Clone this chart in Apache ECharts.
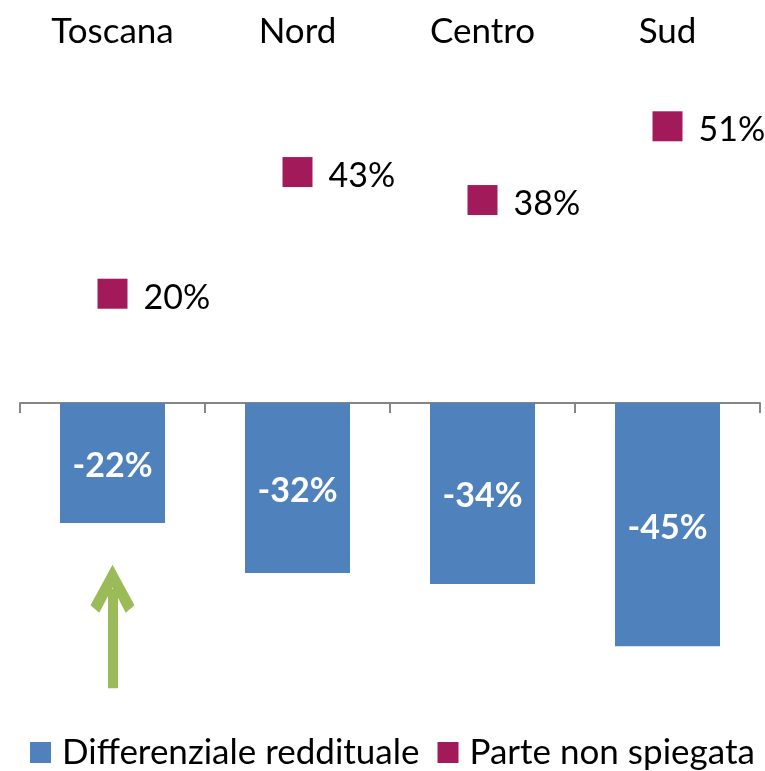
<!DOCTYPE html>
<html>
<head>
<meta charset="utf-8">
<script src="https://cdn.jsdelivr.net/npm/echarts@6/dist/echarts.min.js"></script>
<style>
  html, body { margin: 0; padding: 0; background: #fff; }
  #chart { width: 765px; height: 771px; }
</style>
</head>
<body>
<div id="chart"></div>
<script>
// dati
const regions = ['Toscana', 'Nord', 'Centro', 'Sud'];
const gapValues = [-22.3, -31.6, -33.6, -45.2];      // Differenziale reddituale
const unexplainedValues = [20.3, 42.9, 37.7, 51.4];  // Parte non spiegata
const arrowFrom = -53;
const arrowTo = -34.5;

const FONT = 'Lato';
const chart = echarts.init(document.getElementById('chart'));

const pct = (p) => Math.round(p.value) + '%';

const option = {
  animation: false,
  grid: { left: 20, right: 5, top: 80, bottom: 45 },
  legend: {
    bottom: -4,
    left: 25,
    itemWidth: 21,
    itemHeight: 21,
    itemGap: 18,
    icon: 'rect',
    textStyle: { fontFamily: FONT, fontSize: 35, color: '#000', padding: [0, 0, 0, 6] },
    data: ['Differenziale reddituale', 'Parte non spiegata']
  },
  xAxis: [
    {
      type: 'category',
      data: regions,
      axisLine: { show: true, onZero: true, lineStyle: { color: '#868686', width: 2 } },
      axisTick: { show: true, length: 10, lineStyle: { color: '#868686', width: 2 } },
      axisLabel: { show: false }
    },
    {
      type: 'category',
      position: 'top',
      data: regions,
      axisLine: { show: false },
      axisTick: { show: false },
      axisLabel: { fontFamily: FONT, fontSize: 35, color: '#000', margin: 31 }
    }
  ],
  yAxis: {
    type: 'value',
    min: -60,
    max: 60,
    show: false,
    splitLine: { show: false }
  },
  series: [
    {
      name: 'Differenziale reddituale',
      type: 'bar',
      data: gapValues,
      barWidth: 105,
      itemStyle: { color: '#4F81BD' },
      label: {
        show: true,
        position: 'inside',
        formatter: pct,
        fontFamily: FONT,
        fontSize: 34,
        fontWeight: 'bold',
        color: '#fff',
        offset: [0, 3]
      },
      markLine: {
        silent: true,
        symbol: ['none', 'path://M10,0 L20,16 L16,19 L10,9 L4,19 L0,16 Z'],
        symbolSize: [44, 48],
        label: { show: false },
        lineStyle: { color: '#9BBB59', width: 10, type: 'solid', opacity: 1 },
        emphasis: { disabled: true },
        data: [[
          { coord: ['Toscana', arrowFrom] },
          { coord: ['Toscana', arrowTo] }
        ]]
      }
    },
    {
      name: 'Parte non spiegata',
      type: 'scatter',
      data: unexplainedValues,
      symbol: 'rect',
      symbolSize: 30,
      itemStyle: { color: '#A31A5A', opacity: 1 },
      label: {
        show: true,
        position: 'right',
        distance: 16,
        formatter: pct,
        fontFamily: FONT,
        fontSize: 34,
        color: '#000',
        offset: [0, 4]
      }
    }
  ]
};

chart.setOption(option);
</script>
</body>
</html>
